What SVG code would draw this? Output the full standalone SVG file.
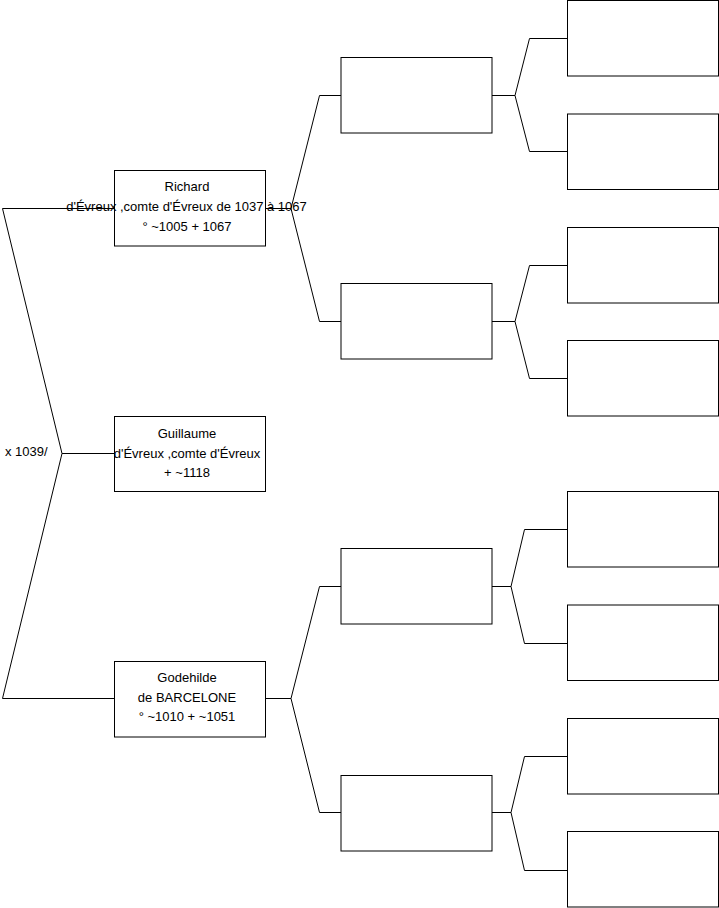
<svg xmlns="http://www.w3.org/2000/svg" width="719" height="908" viewBox="0 0 719 908">
<style>
.box{fill:#fff;stroke:#000;stroke-width:1}
.ln{fill:none;stroke:#000;stroke-width:1}
text{font-family:"Liberation Sans",Arial,sans-serif;font-size:13px;fill:#000}
.c{text-anchor:middle}
</style>
<rect width="719" height="908" fill="#fff"/>
<g id="connectors">
<path class="ln" d="M2.5 208.5H114.5M2.5 208.5L62 453.5L2.5 698.5H114.5M62 453.5H114.5"/>
<path class="ln" d="M265.5 208.5H291L319.5 95.5H341M291 208.5L319.5 321.5H341"/>
<path class="ln" d="M265.5 698.5H291L319.5 586.5H341M291 698.5L319.5 812.5H341"/>
<path class="ln" d="M492 95.5H515L529.5 38.5H567.5M515 95.5L529.5 151.5H567.5"/>
<path class="ln" d="M492 321.5H515L529.5 265.5H567.5M515 321.5L529.5 378.5H567.5"/>
<path class="ln" d="M492 586.5H511L524.5 529.5H567.5M511 586.5L524.5 643.5H567.5"/>
<path class="ln" d="M492 812.5H511L524.5 756.5H567.5M511 812.5L524.5 870.5H567.5"/>
<text x="5" y="456">x 1039/</text>
</g>
<g id="richard"><rect class="box" x="114.5" y="170.5" width="151" height="75.5"/>
<text class="c" x="187" y="191">Richard</text>
<text class="c" x="186.5" y="211">d'Évreux ,comte d'Évreux de 1037 à 1067</text>
<text class="c" x="187" y="231">° ~1005 + 1067</text></g>
<g id="guillaume"><rect class="box" x="114.5" y="416.5" width="151" height="75"/>
<text class="c" x="187" y="438">Guillaume</text>
<text class="c" x="187" y="458">d'Évreux ,comte d'Évreux</text>
<text class="c" x="187" y="477">+ ~1118</text></g>
<g id="godehilde"><rect class="box" x="114.5" y="661.5" width="151" height="75.5"/>
<text class="c" x="187" y="682">Godehilde</text>
<text class="c" x="187" y="702">de BARCELONE</text>
<text class="c" x="187" y="721">° ~1010 + ~1051</text></g>
<g id="p1"><rect class="box" x="341" y="57.5" width="151" height="75.5"/></g>
<g id="p2"><rect class="box" x="341" y="283.5" width="151" height="75.5"/></g>
<g id="p3"><rect class="box" x="341" y="548.5" width="151" height="75.5"/></g>
<g id="p4"><rect class="box" x="341" y="775.5" width="151" height="75.5"/></g>
<g id="g1"><rect class="box" x="567.5" y="0.5" width="151" height="75.5"/></g>
<g id="g2"><rect class="box" x="567.5" y="114" width="151" height="75.5"/></g>
<g id="g3"><rect class="box" x="567.5" y="227.5" width="151" height="75.5"/></g>
<g id="g4"><rect class="box" x="567.5" y="340.5" width="151" height="75.5"/></g>
<g id="g5"><rect class="box" x="567.5" y="491.5" width="151" height="75.5"/></g>
<g id="g6"><rect class="box" x="567.5" y="605" width="151" height="75.5"/></g>
<g id="g7"><rect class="box" x="567.5" y="718.5" width="151" height="75.5"/></g>
<g id="g8"><rect class="box" x="567.5" y="831.5" width="151" height="75.5"/></g>
</svg>
